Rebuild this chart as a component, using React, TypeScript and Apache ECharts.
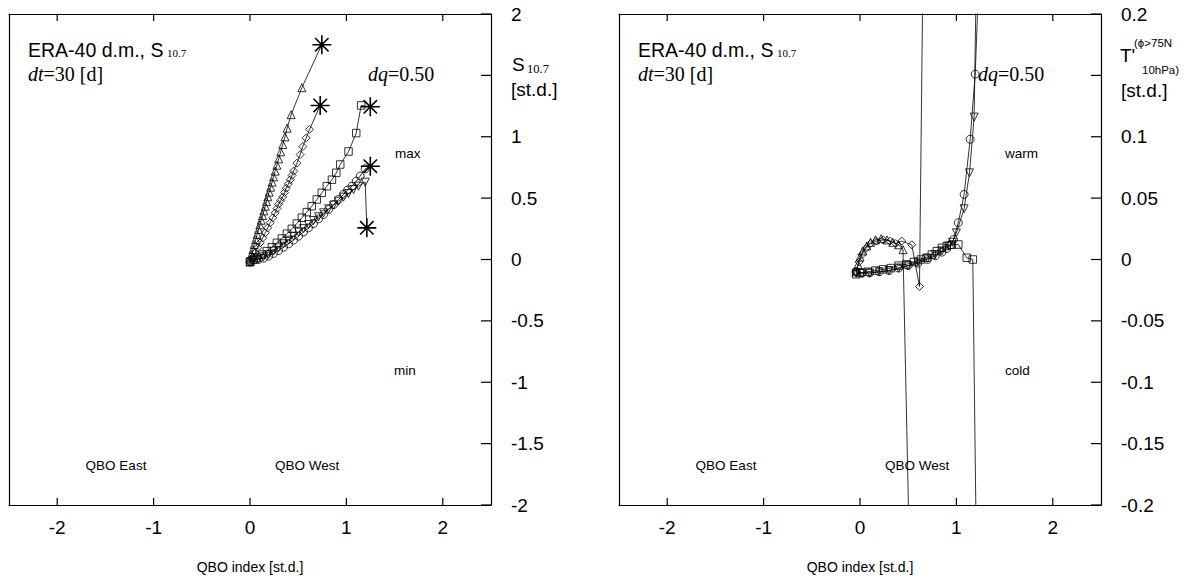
import React, { useEffect, useRef } from "react";
import * as echarts from "echarts";

const SANS = '"Liberation Sans", Arial, sans-serif';
const SERIF = '"Liberation Serif", "Times New Roman", serif';

// x tick labels (QBO index) and y tick labels
const X_TICKS = [-2, -1, 0, 1, 2];
const Y_TICKS_L = [-2, -1.5, -1, -0.5, 0, 0.5, 1, 1.5, 2];
const Y_LABELS_L = [-2, -1.5, -1, -0.5, 0, 0.5, 1, 2];
const Y_TICKS_R = [-0.2, -0.15, -0.1, -0.05, 0, 0.05, 0.1, 0.15, 0.2];
const Y_LABELS_R = [-0.2, -0.15, -0.1, -0.05, 0, 0.05, 0.1, 0.2];

// Left panel: S10.7 vs QBO index (last point of each = star)
const L_TRI = [[0.0, -0.02], [0.015, 0.041], [0.03, 0.081], [0.044, 0.122], [0.059, 0.163], [0.074, 0.204], [0.089, 0.244], [0.102, 0.282], [0.116, 0.32], [0.13, 0.358], [0.144, 0.396], [0.158, 0.434], [0.171, 0.473], [0.185, 0.511], [0.199, 0.549], [0.214, 0.589], [0.229, 0.63], [0.244, 0.673], [0.261, 0.72], [0.279, 0.768], [0.298, 0.82], [0.318, 0.877], [0.34, 0.937], [0.363, 0.999], [0.385, 1.07], [0.427, 1.18], [0.538, 1.4], [0.745, 1.75]];
const L_DIA = [[0.0, -0.02], [0.027, 0.018], [0.054, 0.054], [0.08, 0.095], [0.106, 0.136], [0.132, 0.176], [0.158, 0.217], [0.184, 0.258], [0.21, 0.3], [0.236, 0.34], [0.261, 0.38], [0.28, 0.415], [0.296, 0.45], [0.318, 0.48], [0.34, 0.51], [0.358, 0.545], [0.376, 0.58], [0.398, 0.615], [0.418, 0.65], [0.436, 0.685], [0.453, 0.72], [0.487, 0.785], [0.52, 0.855], [0.548, 0.92], [0.583, 0.99], [0.618, 1.06], [0.728, 1.255]];
const L_SQR = [[0.0, -0.02], [0.035, -0.003], [0.071, 0.014], [0.123, 0.04], [0.175, 0.068], [0.227, 0.1], [0.279, 0.136], [0.331, 0.171], [0.383, 0.21], [0.434, 0.25], [0.486, 0.293], [0.538, 0.34], [0.589, 0.386], [0.641, 0.434], [0.693, 0.489], [0.745, 0.543], [0.797, 0.597], [0.85, 0.65], [0.895, 0.706], [0.936, 0.774], [1.022, 0.88], [1.102, 1.03], [1.153, 1.255], [1.248, 1.244]];
const L_CIR = [[0.0, -0.02], [0.037, -0.005], [0.088, 0.0], [0.14, 0.011], [0.193, 0.027], [0.244, 0.049], [0.296, 0.073], [0.348, 0.1], [0.4, 0.128], [0.452, 0.158], [0.504, 0.19], [0.555, 0.225], [0.607, 0.258], [0.659, 0.293], [0.711, 0.331], [0.763, 0.367], [0.815, 0.407], [0.867, 0.448], [0.918, 0.489], [0.97, 0.53], [1.012, 0.565], [1.057, 0.597], [1.102, 0.638], [1.143, 0.68], [1.195, 0.739], [1.248, 0.76]];
const L_ITR = [[0.0, -0.02], [0.037, -0.005], [0.088, 0.005], [0.14, 0.022], [0.193, 0.04], [0.244, 0.068], [0.296, 0.095], [0.348, 0.128], [0.4, 0.158], [0.452, 0.19], [0.504, 0.223], [0.555, 0.253], [0.607, 0.285], [0.659, 0.318], [0.711, 0.348], [0.763, 0.38], [0.815, 0.413], [0.867, 0.443], [0.918, 0.475], [0.97, 0.508], [1.022, 0.538], [1.074, 0.57], [1.126, 0.597], [1.195, 0.63], [1.212, 0.258]];

// Right panel: T'(phi>75N, 10hPa) vs QBO index (last point of each lies off-scale)
const R_TRI = [[-0.04, -0.01], [-0.02, -0.004], [0.0, 0.002], [0.03, 0.007], [0.07, 0.011], [0.11, 0.014], [0.16, 0.016], [0.22, 0.017], [0.28, 0.016], [0.34, 0.014], [0.4, 0.012], [0.446, 0.008], [0.745, -1.1]];
const R_DIA = [[-0.04, -0.01], [-0.01, -0.002], [0.02, 0.004], [0.06, 0.009], [0.11, 0.013], [0.17, 0.015], [0.24, 0.016], [0.31, 0.015], [0.37, 0.013], [0.433, 0.015], [0.537, 0.012], [0.617, -0.022], [0.728, 0.77]];
const R_SQR = [[-0.04, -0.012], [0.0, -0.011], [0.08, -0.01], [0.16, -0.009], [0.24, -0.008], [0.32, -0.007], [0.4, -0.005], [0.48, -0.004], [0.56, -0.002], [0.63, 0.0], [0.69, 0.0014], [0.745, 0.004], [0.797, 0.0068], [0.849, 0.0095], [0.9, 0.011], [0.952, 0.012], [1.02, 0.0122], [1.108, 0.0014], [1.17, 0.0], [1.248, -0.5]];
const R_CIR = [[-0.04, -0.01], [0.02, -0.011], [0.1, -0.011], [0.2, -0.01], [0.3, -0.009], [0.4, -0.007], [0.5, -0.005], [0.6, -0.003], [0.7, 0.0], [0.78, 0.003], [0.85, 0.006], [0.9, 0.009], [0.94, 0.012], [0.97, 0.0163], [1.02, 0.03], [1.08, 0.053], [1.143, 0.098], [1.195, 0.151], [1.248, 0.26]];
const R_ITR = [[-0.04, -0.011], [0.02, -0.011], [0.1, -0.011], [0.2, -0.01], [0.3, -0.009], [0.4, -0.007], [0.5, -0.005], [0.6, -0.002], [0.7, 0.001], [0.78, 0.004], [0.85, 0.007], [0.92, 0.011], [0.96, 0.014], [1.0, 0.0217], [1.08, 0.0413], [1.136, 0.0706], [1.184, 0.116], [1.212, 0.26]];

const STAR = "path://M0,-10L0,10M-10,0L10,0M-7.07,-7.07L7.07,7.07M-7.07,7.07L7.07,-7.07";

const GRIDS = [
  { left: 9, top: 14, width: 482, height: 491 },
  { left: 619, top: 14, width: 482, height: 491 },
];
const X_MIN = -2.5;
const X_MAX = 2.5;

function mkSeries(data: number[][], symbol: string, rotate: number, gi: number, star: boolean) {
  const items = data.map((p, i) => {
    if (i === data.length - 1 && star) {
      return { value: p, symbol: STAR, symbolSize: 19, symbolRotate: 0, itemStyle: { color: "transparent", borderColor: "#000", borderWidth: 1.6 } };
    }
    return { value: p };
  });
  return {
    type: "line",
    xAxisIndex: gi * 2,
    yAxisIndex: gi * 2,
    data: items,
    symbol,
    symbolSize: symbol === "rect" ? 7.5 : 8,
    symbolRotate: rotate,
    showAllSymbol: true,
    silent: true,
    clip: true,
    lineStyle: { color: "#000", width: 0.8 },
    itemStyle: { color: "transparent", borderColor: "#000", borderWidth: 0.8 },
    z: 3,
  };
}

// inward tick marks as thin rect symbols placed on the box edges through the axes' scales
function tickSeries(gi: number, yTicks: number[], yMin: number, yMax: number) {
  const common = {
    type: "scatter",
    xAxisIndex: gi * 2,
    yAxisIndex: gi * 2,
    symbol: "rect",
    silent: true,
    clip: false,
    z: 20,
    itemStyle: { color: "#000", opacity: 1 },
  };
  return [
    { ...common, data: X_TICKS.map((v) => [v, yMin]), symbolSize: [1.2, 7], symbolOffset: [0, -3.5] },
    { ...common, data: X_TICKS.map((v) => [v, yMax]), symbolSize: [1.2, 7], symbolOffset: [0, 3.5] },
    { ...common, data: yTicks.map((v) => [X_MAX, v]), symbolSize: [10, 1.2], symbolOffset: [-5, 0] },
  ];
}

const LINE = { show: true, onZero: false, lineStyle: { color: "#000", width: 1.2 } };

function xAxes(gi: number) {
  const base = {
    gridIndex: gi,
    type: "value",
    min: X_MIN,
    max: X_MAX,
    axisLine: LINE,
    splitLine: { show: false },
    axisTick: { show: false },
  };
  return [
    {
      ...base,
      position: "bottom",
      axisLabel: { customValues: X_TICKS, color: "#000", fontSize: 19, fontFamily: SANS, margin: 13 },
      name: "QBO index [st.d.]",
      nameLocation: "middle",
      nameGap: 55,
      nameTextStyle: { color: "#000", fontSize: 14, fontFamily: SANS },
    },
    { ...base, position: "top", axisLabel: { show: false } },
  ];
}

function yAxes(gi: number, min: number, max: number, labels: number[]) {
  return [
    {
      gridIndex: gi,
      type: "value",
      min,
      max,
      position: "right",
      axisLine: LINE,
      splitLine: { show: false },
      axisTick: { show: false },
      axisLabel: { customValues: labels, color: "#000", fontSize: 19, fontFamily: SANS, margin: 20 },
    },
    {
      gridIndex: gi,
      type: "value",
      min,
      max,
      position: "left",
      axisLine: LINE,
      splitLine: { show: false },
      axisTick: { show: false },
      axisLabel: { show: false },
    },
  ];
}

function txt(x: number, y: number, text: string, font: string, extra: any = {}) {
  return { type: "text", x, y, silent: true, style: { text, font, fill: "#000", verticalAlign: "middle", align: "left", ...extra } };
}

export default function App() {
  const ref = useRef<HTMLDivElement>(null);
  useEffect(() => {
    if (!ref.current) return;
    const chart = echarts.init(ref.current, null, { renderer: "svg" });
    const big = `19px ${SANS}`;
    const s14 = `13.5px ${SANS}`;
    const graphics: any[] = [];
    for (const off of [0, 610]) {
      graphics.push(txt(28 + off, 49.5, "ERA-40 d.m., S", `19.5px ${SANS}`));
      graphics.push(txt(167 + off, 53, "10.7", `11px ${SERIF}`));
      graphics.push({
        type: "text", x: 28 + off, y: 74, silent: true,
        style: {
          text: "{i|dt}{n|=30 [d]}", verticalAlign: "middle", fill: "#000",
          rich: { i: { font: `italic 20px ${SERIF}`, fill: "#000" }, n: { font: `20px ${SERIF}`, fill: "#000" } },
        },
      });
      graphics.push({
        type: "text", x: 368 + off, y: 74, silent: true,
        style: {
          text: "{i|dq}{n|=0.50}", verticalAlign: "middle", fill: "#000",
          rich: { i: { font: `italic 20px ${SERIF}`, fill: "#000" }, n: { font: `20px ${SERIF}`, fill: "#000" } },
        },
      });
      graphics.push({ type: "text", x: 116 + off, y: 465, silent: true, style: { text: "QBO East", font: s14, fill: "#000", align: "center", verticalAlign: "middle" } });
      graphics.push({ type: "text", x: 307 + off, y: 465, silent: true, style: { text: "QBO West", font: s14, fill: "#000", align: "center", verticalAlign: "middle" } });
    }
    graphics.push(txt(395, 153, "max", s14));
    graphics.push(txt(394, 370, "min", s14));
    graphics.push(txt(1005, 153, "warm", s14));
    graphics.push(txt(1005, 370, "cold", s14));
    // left y-axis title
    graphics.push(txt(512, 64.5, "S", big));
    graphics.push(txt(527, 69, "10.7", `12.5px ${SERIF}`));
    graphics.push(txt(511, 89, "[st.d.]", big));
    // right y-axis title
    graphics.push(txt(1120, 55, "T'", big));
    graphics.push(txt(1134, 43, "(ϕ>75N", `11.5px ${SANS}`));
    graphics.push(txt(1142, 70, "10hPa)", `11.5px ${SANS}`));
    graphics.push(txt(1121, 90, "[st.d.]", big));

    const option: any = {
      animation: false,
      backgroundColor: "#fff",
      grid: GRIDS.map((g) => ({ ...g, show: false })),
      xAxis: [...xAxes(0), ...xAxes(1)],
      yAxis: [...yAxes(0, -2, 2, Y_LABELS_L), ...yAxes(1, -0.2, 0.2, Y_LABELS_R)],
      series: [
        mkSeries(L_TRI, "triangle", 0, 0, true),
        mkSeries(L_DIA, "diamond", 0, 0, true),
        mkSeries(L_SQR, "rect", 0, 0, true),
        mkSeries(L_CIR, "circle", 0, 0, true),
        mkSeries(L_ITR, "triangle", 180, 0, true),
        mkSeries(R_TRI, "triangle", 0, 1, false),
        mkSeries(R_DIA, "diamond", 0, 1, false),
        mkSeries(R_SQR, "rect", 0, 1, false),
        mkSeries(R_CIR, "circle", 0, 1, false),
        mkSeries(R_ITR, "triangle", 180, 1, false),
        ...tickSeries(0, Y_TICKS_L, -2, 2),
        ...tickSeries(1, Y_TICKS_R, -0.2, 0.2),
      ],
      graphic: graphics,
    };
    chart.setOption(option);
    return () => chart.dispose();
  }, []);
  return <div ref={ref} style={{ position: "fixed", left: 0, top: 0, width: 1197, height: 581 }} />;
}
